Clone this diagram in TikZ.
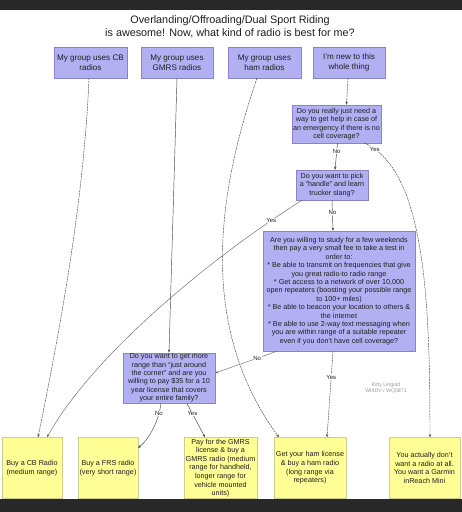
\documentclass[tikz,border=0pt]{standalone}
\usepackage{fontspec}
\setmainfont{Liberation Sans}
\usetikzlibrary{arrows.meta}
\definecolor{qfill}{RGB}{178,176,242}
\definecolor{qborder}{RGB}{135,133,195}
\definecolor{afill}{RGB}{255,255,150}
\definecolor{aborder}{RGB}{205,205,140}
\definecolor{txt}{RGB}{30,30,30}
\definecolor{lc}{RGB}{70,70,70}
\definecolor{bar}{RGB}{40,40,40}
\tikzset{
  qbox/.style={draw=qborder, fill=qfill, line width=0.4pt, align=center, inner sep=1pt,
    font=\fontsize{7.2}{8.4}\selectfont, text=txt},
  topbox/.style={qbox, font=\fontsize{8.1}{10}\selectfont, minimum height=31pt},
  abox/.style={draw=aborder, fill=afill, line width=0.4pt, align=center, inner sep=1pt,
    font=\fontsize{7.2}{8.6}\selectfont, text=txt, minimum height=61pt},
  conn/.style={draw=lc, line width=0.45pt, -{Stealth[length=3.2pt,width=2.4pt]}},
  dconn/.style={conn, dash pattern=on 2pt off 0.8pt},
  lbl/.style={fill=white, inner sep=0.6pt, font=\fontsize{6}{7}\selectfont, text=txt},
  wm/.style={align=center, font=\fontsize{5.2}{6.5}\selectfont, text=black!40, inner sep=0pt}
}
\begin{document}
\begin{tikzpicture}[x=1pt, y=-1pt]
\useasboundingbox (0,0) rectangle (462,512);
\fill[white] (0,0) rectangle (462,512);
\fill[bar] (0,0) rectangle (462,10);
\fill[bar] (0,499) rectangle (462,512);

% title
\node[align=center, font=\fontsize{10.8}{13}\selectfont, text=txt] (title) at (230,26.5)
  {Overlanding/Offroading/Dual Sport Riding\\is awesome! Now, what kind of radio is best for me?};

% top boxes
\node[topbox, minimum width=73pt] (top1) at (90.5,62.5) {My group uses CB\\radios};
\node[topbox, minimum width=72pt] (top2) at (177,62.5) {My group uses\\GMRS radios};
\node[topbox, minimum width=73pt] (top3) at (264.5,62.5) {My group uses\\ham radios};
\node[topbox, minimum width=72pt] (top4) at (349,62.5) {I'm new to this\\whole thing};

% questions
\node[qbox, minimum width=89pt, minimum height=38pt] (q1) at (336.5,124)
  {Do you really just need a\\way to get help in case of\\an emergency if there is no\\cell coverage?};
\node[qbox, minimum width=72pt, minimum height=30pt] (q2) at (332,185)
  {Do you want to pick\\a "handle" and learn\\trucker slang?};
\node[qbox, minimum width=152pt, minimum height=120pt] (q3) at (339,291)
  {Are you willing to study for a few weekends\\then pay a very small fee to take a test in\\order to:\\
   * Be able to transmit on frequencies that give\\you great radio-to radio range\\
   * Get access to a network of over 10,000\\open repeaters (boosting your possible range\\to 100+ miles)\\
   * Be able to beacon your location to others \&\\the internet\\
   * Be able to use 2-way text messaging when\\you are within range of a suitable repeater\\even if you don't have cell coverage?};
\node[qbox, minimum width=92pt, minimum height=50pt] (q4) at (169,378)
  {Do you want to get more\\range than “just around\\the corner” and are you\\willing to pay \$35 for a 10\\year license that covers\\your entire family?};

% answers
\node[abox, minimum width=60pt] (b1) at (32,468) {Buy a CB Radio\\(medium range)};
\node[abox, minimum width=60pt] (b2) at (108,468) {Buy a FRS radio\\(very short range)};
\node[abox, minimum width=73pt] (b3) at (220.5,468)
  {Pay for the GMRS\\license \& buy a\\GMRS radio (medium\\range for handheld,\\longer range for\\vehicle mounted\\units)};
\node[abox, minimum width=72pt] (b4) at (310,468)
  {Get your ham license\\\& buy a ham radio\\(long range via\\repeaters)};
\node[abox, minimum width=71pt] (b5) at (424.5,468)
  {You actually don't\\want a radio at all.\\You want a Garmin\\inReach Mini};

% watermark
\node[wm] (mark) at (386,388) {Kitty Lingold\\WI4DV / WQ0871};

% connectors
\draw[dconn] ([xshift=-1.5pt]top1.south) .. controls (84,200) and (60,330) .. ([xshift=6pt]b1.north);
\draw[conn] (top2.south) -- (q4.north);
\draw[dconn] ([xshift=-7.5pt]top3.south) .. controls (215,200) and (200,330) .. ([xshift=-31pt]b4.north);
\draw[dconn] ([xshift=-1pt]top4.south) -- ([xshift=10pt]q1.north);

\draw[conn] ([xshift=1pt]q1.south) -- node[lbl, pos=0.3] {No} ([xshift=3pt]q2.north);
\draw[dconn] ([xshift=28pt]q1.south) .. controls (425,170) and (430,300) .. node[lbl, pos=0.06] {Yes} ([xshift=5.5pt]b5.north);

\draw[conn, draw=lc!80] ([xshift=-30pt]q2.south) .. controls (200,265) and (90,360) .. node[lbl, pos=0.1] {Yes} ([xshift=15pt]b1.north);
\draw[conn] (q2.south) -- node[lbl, pos=0.4] {No} ([xshift=-6pt]q3.north);

\draw[conn, draw=lc!80] ([xshift=-62pt]q3.south) -- node[lbl, pos=0.32] {No} ([yshift=5pt]q4.east);
\draw[dconn] ([xshift=-6pt]q3.south) -- node[lbl, pos=0.3] {Yes} ([xshift=17pt]b4.north);

\draw[conn] ([xshift=-8pt]q4.south) .. controls (159,420) and (150,438) .. node[lbl, pos=0.2] {No} ([yshift=20pt]b2.east);
\draw[conn] ([xshift=18pt]q4.south) -- node[lbl, pos=0.3] {Yes} ([xshift=-15.5pt]b3.north);
\end{tikzpicture}
\end{document}
